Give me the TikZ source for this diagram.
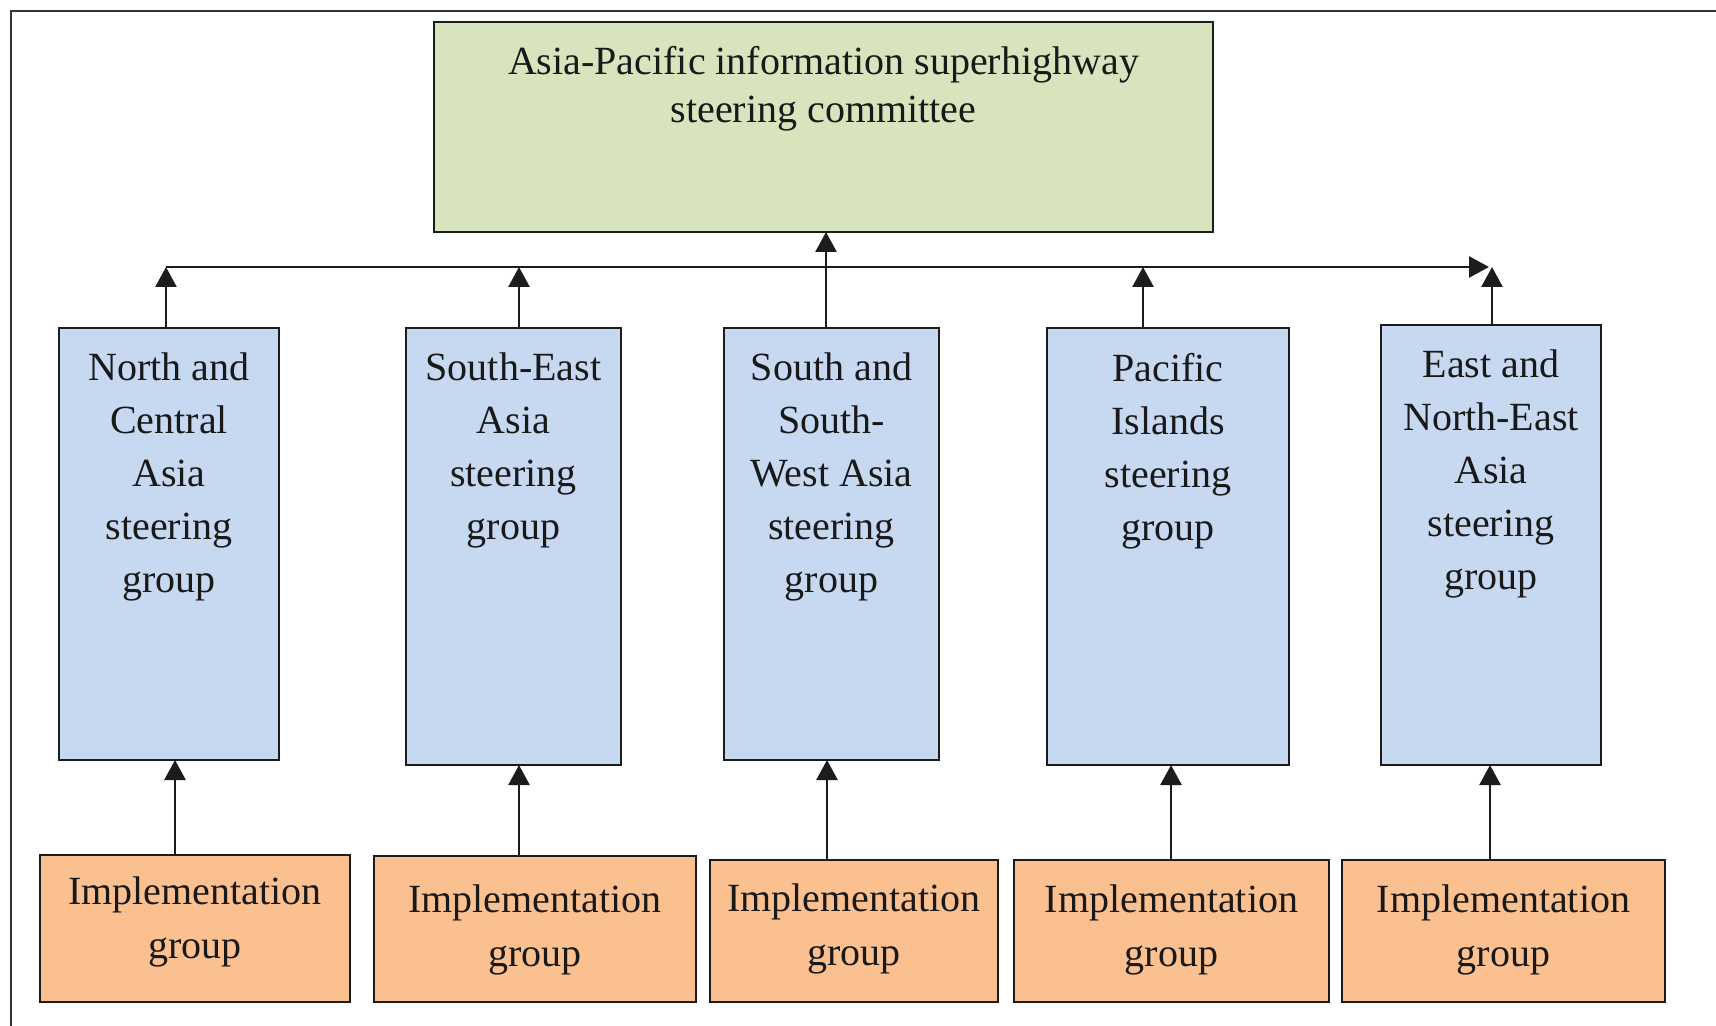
\documentclass[tikz,border=0pt]{standalone}
\usepackage{fontspec}
\setmainfont{Liberation Serif}
\usetikzlibrary{arrows.meta}
\definecolor{gfill}{RGB}{215,228,189}
\definecolor{bfill}{RGB}{198,217,241}
\definecolor{ofill}{RGB}{250,192,144}
\definecolor{edge}{RGB}{28,28,28}
\definecolor{txtc}{RGB}{25,25,25}
\begin{document}
\begin{tikzpicture}[x=0.5pt,y=-0.5pt,
  box/.style={draw=edge,line width=1.4pt,inner sep=0pt,outer sep=0pt,anchor=north west},
  gbox/.style={box,fill=gfill},
  bbox/.style={box,fill=bfill},
  obox/.style={box,fill=ofill},
  txt/.style={text=txtc,inner sep=0pt,outer sep=0pt,align=center,anchor=north},
  gtxt/.style={txt,font=\fontsize{20}{24}\selectfont},
  btxt/.style={txt,font=\fontsize{20}{26.5}\selectfont},
  otxt/.style={txt,font=\fontsize{20}{27}\selectfont},
  conn/.style={draw=edge,line width=1.3pt,-{Triangle[length=10pt,width=10.5pt]}},
  framel/.style={draw=black!80,line width=0.8pt}]
\useasboundingbox (0,0) rectangle (1716,1026);
% frame
\coordinate (fbl) at (11,1026);
\coordinate (ftl) at (11,11);
\coordinate (ftr) at (1716,11);
\draw[framel] (fbl) -- (ftl) -- (ftr);
% top committee
\node[gbox,minimum width=389.5pt,minimum height=105pt] (g) at (434,22) {};
\node[gtxt] (gt) at ([yshift=-12pt]g.north) {Asia-Pacific information superhighway\\steering committee};
% steering groups
\node[bbox,minimum width=110pt,minimum height=216pt] (b1) at (59,328) {};
\node[bbox,minimum width=107.5pt,minimum height=218.5pt] (b2) at (406,328) {};
\node[bbox,minimum width=107.5pt,minimum height=216pt] (b3) at (724,328) {};
\node[bbox,minimum width=121pt,minimum height=218.5pt] (b4) at (1047,328) {};
\node[bbox,minimum width=110pt,minimum height=220pt] (b5) at (1381,325) {};
\node[btxt] (b1t) at ([yshift=-12.5pt]b1.north) {North and\\Central\\Asia\\steering\\group};
\node[btxt] (b2t) at ([yshift=-12.5pt]b2.north) {South-East\\Asia\\steering\\group};
\node[btxt] (b3t) at ([yshift=-12.5pt]b3.north) {South and\\South-\\West Asia\\steering\\group};
\node[btxt] (b4t) at ([yshift=-12.5pt]b4.north) {Pacific\\Islands\\steering\\group};
\node[btxt] (b5t) at ([yshift=-12.5pt]b5.north) {East and\\North-East\\Asia\\steering\\group};
% implementation groups
\node[obox,minimum width=155pt,minimum height=73.5pt] (o1) at (40,855) {};
\node[obox,minimum width=161pt,minimum height=73pt] (o2) at (374,856) {};
\node[obox,minimum width=144pt,minimum height=71pt] (o3) at (710,860) {};
\node[obox,minimum width=157.5pt,minimum height=71pt] (o4) at (1014,860) {};
\node[obox,minimum width=161.5pt,minimum height=71pt] (o5) at (1342,860) {};
\node[otxt] (o1t) at ([yshift=-11pt]o1.north) {Implementation\\group};
\node[otxt] (o2t) at ([yshift=-14.5pt]o2.north) {Implementation\\group};
\node[otxt] (o3t) at ([yshift=-12pt]o3.north) {Implementation\\group};
\node[otxt] (o4t) at ([yshift=-12.5pt]o4.north) {Implementation\\group};
\node[otxt] (o5t) at ([yshift=-12.5pt]o5.north) {Implementation\\group};
% connector coordinates
\coordinate (j1) at (166,267);
\coordinate (j2) at (519,267);
\coordinate (j4) at (1143,267);
\coordinate (j5) at (1492,267);
\coordinate (hend) at (1489,267);
\coordinate (m) at (826,0);
\coordinate (a1) at (175,0);
\coordinate (a2) at (519,0);
\coordinate (a3) at (827,0);
\coordinate (a4) at (1171,0);
\coordinate (a5) at (1490,0);
% horizontal bus
\draw[conn] (j1) -- (hend);
% steering groups up to bus
\draw[conn] (b1.north -| j1) -- (j1);
\draw[conn] (b2.north -| j2) -- (j2);
\draw[conn] (b4.north -| j4) -- (j4);
\draw[conn] (b5.north -| j5) -- (j5);
\draw[conn] (b3.north -| m) -- (g.south -| m);
% implementation groups up to steering groups
\draw[conn] (o1.north -| a1) -- (b1.south -| a1);
\draw[conn] (o2.north -| a2) -- (b2.south -| a2);
\draw[conn] (o3.north -| a3) -- (b3.south -| a3);
\draw[conn] (o4.north -| a4) -- (b4.south -| a4);
\draw[conn] (o5.north -| a5) -- (b5.south -| a5);
\end{tikzpicture}
\end{document}
